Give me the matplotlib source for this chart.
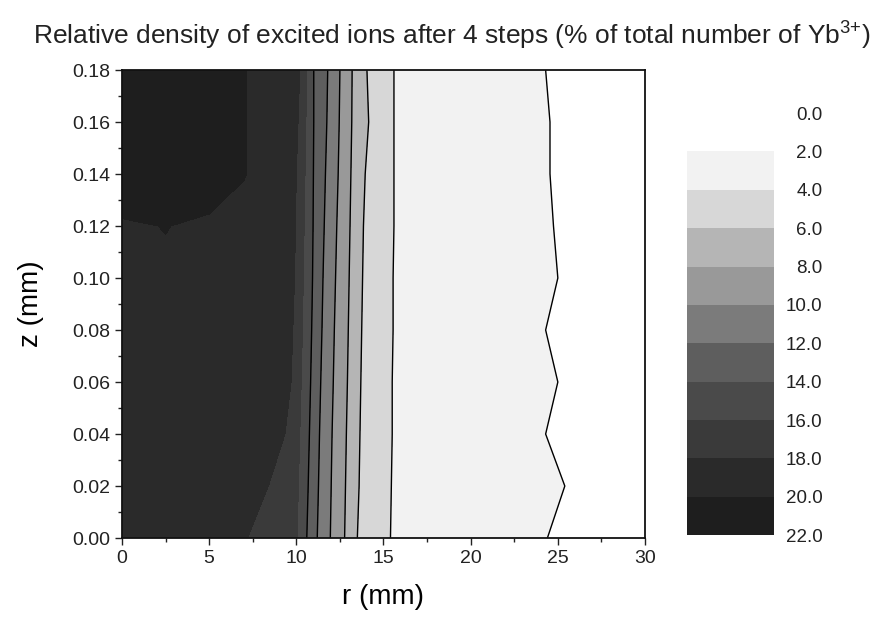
import numpy as np
import matplotlib
matplotlib.use("Agg")
import matplotlib.pyplot as plt
from matplotlib import font_manager
from matplotlib.ticker import MultipleLocator, FormatStrFormatter

plt.rcParams.update({
    "font.family": ["Liberation Sans", "DejaVu Sans"],
    "mathtext.fontset": "custom",
    "mathtext.rm": "Liberation Sans",
    "mathtext.it": "Liberation Sans:italic",
    "text.color": "#222222",
    "xtick.color": "#222222",
    "ytick.color": "#222222",
})

# the scanned title is set in a condensed face; use one if it is there
installed = {f.name for f in font_manager.fontManager.ttflist}
if "Liberation Sans Narrow" in installed:
    TITLE_FONT, TITLE_SIZE = "Liberation Sans Narrow", 21
else:
    TITLE_FONT, TITLE_SIZE = "Liberation Sans", 19

# ── data ───────────────────────────────────────────────────────────────────
# z rows of the grid (mm)
z_rows = [0.00, 0.02, 0.04, 0.06, 0.08, 0.10, 0.12, 0.14, 0.16, 0.18]

# fixed radial nodes near the axis (mm) and density there (% of Yb3+), per z row
r_left = [0.0, 2.5, 5.0, 7.0]
dens_left = [
    [19.40, 19.00, 18.60, 18.05],
    [19.50, 19.30, 19.00, 18.60],
    [19.60, 19.45, 19.20, 18.90],
    [19.70, 19.60, 19.40, 19.10],
    [19.75, 19.70, 19.50, 19.20],
    [19.85, 19.90, 19.80, 19.50],
    [19.90, 20.02, 19.85, 19.30],
    [20.60, 20.60, 20.50, 20.10],
    [20.80, 20.80, 20.70, 20.10],
    [20.80, 20.80, 20.70, 20.10],
]

# radius (mm) where the density drops to each level, per z row
iso_levels = [18, 16, 14, 12, 10, 8, 6, 4, 2]
r_iso_18 = [7.20, 8.40, 9.35, 9.70, 9.80, 9.90, 9.95, 10.00, 10.10, 10.20]
r_iso_16 = [10.04, 10.12, 10.20, 10.28, 10.35, 10.40, 10.45, 10.50, 10.55, 10.60]
r_iso_14 = [10.60, 10.68, 10.75, 10.82, 10.88, 10.93, 10.96, 10.98, 11.00, 11.00]
r_iso_12 = [11.20, 11.27, 11.33, 11.40, 11.47, 11.53, 11.60, 11.67, 11.75, 11.80]
r_iso_10 = [11.95, 12.00, 12.05, 12.12, 12.18, 12.25, 12.32, 12.40, 12.46, 12.50]
r_iso_8 = [12.77, 12.82, 12.87, 12.93, 12.98, 13.03, 13.08, 13.13, 13.18, 13.20]
r_iso_6 = [13.50, 13.60, 13.65, 13.70, 13.75, 13.80, 13.85, 13.95, 14.15, 14.05]
r_iso_4 = [15.40, 15.45, 15.50, 15.50, 15.55, 15.55, 15.60, 15.60, 15.60, 15.60]
r_iso_2 = [24.40, 25.40, 24.30, 25.00, 24.30, 25.00, 24.75, 24.55, 24.55, 24.30]

# outer edge of the crystal
r_edge = 30.0
dens_edge = [1.0, 1.0, 1.0, 1.0, 1.0, 1.0, 1.0, 1.0, 1.0, 1.0]

levels = [0, 2, 4, 6, 8, 10, 12, 14, 16, 18, 20, 22]
band_colors = ["#ffffff", "#f2f2f2", "#d7d7d7", "#b5b5b5", "#999999",
               "#7b7b7b", "#5e5e5e", "#4a4a4a", "#3a3a3a", "#2a2a2a", "#1e1e1e"]
line_levels = [2, 4, 6, 8, 10, 12, 14]

# ── build curvilinear grid ─────────────────────────────────────────────────
n = len(z_rows)
iso_r = [r_iso_18, r_iso_16, r_iso_14, r_iso_12, r_iso_10,
         r_iso_8, r_iso_6, r_iso_4, r_iso_2]
X = np.column_stack([np.tile(r_left, (n, 1))] +
                    [np.array(r) for r in iso_r] + [np.full(n, r_edge)])
Z = np.column_stack([np.array(dens_left)] +
                    [np.full(n, float(L)) for L in iso_levels] +
                    [np.array(dens_edge)])
Y = np.tile(np.array(z_rows)[:, None], (1, X.shape[1]))

# ── figure ─────────────────────────────────────────────────────────────────
fig = plt.figure(figsize=(8.93, 6.18), dpi=100)
ax = fig.add_axes([0.1366, 0.1294, 0.5857, 0.7573])

cs = ax.contourf(X, Y, Z, levels=levels, colors=band_colors)
ax.contour(X, Y, Z, levels=line_levels, colors="black", linewidths=1.0)

ax.set_xlim(0, 30)
ax.set_ylim(0, 0.18)
ax.xaxis.set_major_locator(MultipleLocator(5))
ax.xaxis.set_minor_locator(MultipleLocator(2.5))
ax.yaxis.set_major_locator(MultipleLocator(0.02))
ax.yaxis.set_minor_locator(MultipleLocator(0.01))
ax.yaxis.set_major_formatter(FormatStrFormatter("%.2f"))
ax.tick_params(which="major", direction="out", length=5, width=1.0, labelsize=14)
ax.tick_params(which="minor", direction="out", length=3, width=1.0)
for s in ax.spines.values():
    s.set_linewidth(1.3)
    s.set_color("#111111")

ax.set_xlabel("r (mm)", fontsize=20, labelpad=12)
ax.set_ylabel("z (mm)", fontsize=20, labelpad=20)

fig.text(0.506, 0.942,
         "Relative density of excited ions after 4 steps (% of total number of Yb$^{3{+}}$)",
         ha="center", va="center", fontsize=TITLE_SIZE, family=TITLE_FONT)

# colour key
cax = fig.add_axes([0.769, 0.134, 0.0974, 0.683])
cb = fig.colorbar(cs, cax=cax, ticks=levels)
cb.outline.set_visible(False)
cax.invert_yaxis()
cax.tick_params(length=0, pad=35, labelsize=13.5)
cax.yaxis.set_major_formatter(FormatStrFormatter("%.1f"))
for t in cax.get_yticklabels():
    t.set_horizontalalignment("right")

fig.savefig("out.png", dpi=100)
